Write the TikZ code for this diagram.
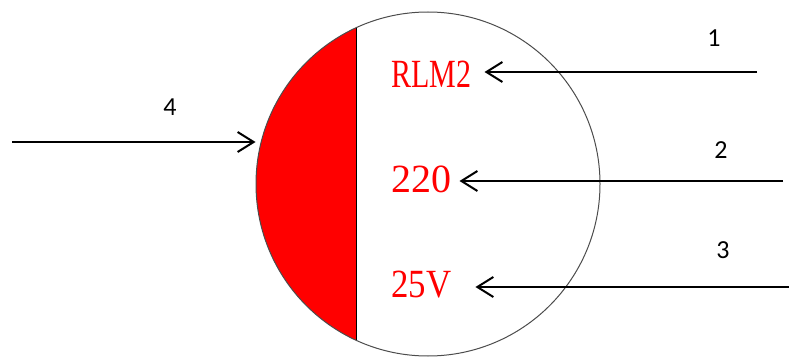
\documentclass[tikz,border=0pt]{standalone}
\usepackage{fontspec}
\newfontfamily\platefont{Liberation Serif}
\newfontfamily\tagfont{Carlito}
\usetikzlibrary{calc}
\usetikzlibrary{arrows.meta, positioning}

\begin{document}
\begin{tikzpicture}[x=0.75pt,y=-0.75pt,
  plate/.style={anchor=base west, inner sep=0pt, text=red, font=\platefont\fontsize{30}{30}\selectfont},
  tag/.style={inner sep=0.75pt, font=\tagfont\fontsize{19.5}{20}\selectfont},
  pointer/.style={line width=1.5pt, -{Straight Barb[length=12pt, width=15pt]}}]

\useasboundingbox (0,0) rectangle (789,360);

%Red segment
\begin{scope}
\clip (0,0) rectangle (356,360);
\fill [red] (428,184) circle [radius=172];
\end{scope}
%Dial
\node [circle, draw=black!70, line width=0.75pt, inner sep=0pt, minimum size=258pt] (dial) at (428,184) {};
%Chord
\draw [line width=0.75pt] (356,28) -- (356,340);

% Text Node
\node [plate] (rlm) at (391,88) {\scalebox{0.75}[1]{RLM2}};
% Text Node
\node [plate] (volt) at (391,192) {220};
% Text Node
\node [plate] (amp) at (391,297) {\scalebox{0.87}[1]{25V}};

% Tag Nodes
\node [tag] (n1) at (714,38) {1};
\node [tag] (n2) at (721,150) {2};
\node [tag] (n3) at (723,250) {3};
\node [tag] (n4) at (170,107) {4};

%Arrow starts
\coordinate (s1) at (757,72);
\coordinate (s2) at (783,181);
\coordinate (s3) at (790,287);
\coordinate (s4) at (12,142);

%Arrows
\draw [pointer] (s1) -- ($(s1 -| rlm.east)+(13,0)$);
\draw [pointer] (s2) -- ($(s2 -| volt.east)+(8,0)$);
\draw [pointer] (s3) -- ($(s3 -| amp.east)+(24,0)$);
\draw [pointer] (s4) -- (s4 -| dial.west);

\end{tikzpicture}
\end{document}
